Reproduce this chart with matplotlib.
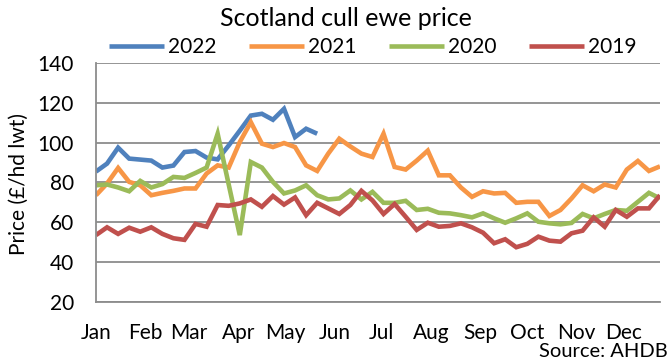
import matplotlib
matplotlib.use("Agg")
import matplotlib.pyplot as plt
import numpy as np

plt.rcParams['font.family'] = ['Lato', 'DejaVu Sans']

months = ["Jan", "Feb", "Mar", "Apr", "May", "Jun", "Jul", "Aug", "Sep", "Oct", "Nov", "Dec"]
month_start_day = [0, 31, 59, 90, 120, 151, 181, 212, 243, 273, 304, 334]

y2022 = [85.5, 89.5, 97.5, 92, 91.5, 91, 87.5, 88.5, 95.3, 95.8, 92.5, 91.6, 98.6, 106,
         113.6, 114.5, 111.5, 117, 102.8, 107, 104.5]

y2021 = [73.6, 79.5, 87.3, 80.3, 78.6, 73.6, 74.8, 75.8, 77, 77, 84.5, 88.6, 87.5, 100.3,
         110.3, 99.5, 97.8, 99.8, 97.8, 88.6, 85.8, 94.5, 102, 98.1, 94.5, 92.8, 104.5, 87.8,
         86.5, 91, 96, 83.6, 83.6, 77.5, 72.8, 75.6, 74.5, 74.8, 69.8, 70.3, 70.3, 63.2,
         66.2, 72, 78.6, 75.6, 79, 77.5, 86.5, 90.8, 85.8, 88.1]

y2020 = [78.6, 79, 77.5, 75.6, 80.8, 77.5, 79.2, 82.8, 82.3, 84.8, 87.5, 104.5, 79, 53.6,
         90.3, 87.5, 80.3, 74.5, 76, 78.6, 73.6, 71.5, 72, 76, 71.5, 75.3, 69.8, 69.8,
         70.8, 66.2, 66.8, 64.8, 64.5, 63.6, 62.5, 64.5, 62, 59.8, 62, 64.5, 60.3, 59.5,
         59, 59.7, 64.2, 62, 64.2, 66.2, 65.8, 70.3, 74.8, 72]

y2019 = [53.6, 57.5, 54.2, 57.3, 55.3, 57.5, 54.2, 52, 51.2, 59.2, 57.8, 68.7, 68.3, 69.5,
         71.5, 67.8, 73.2, 68.9, 72.5, 63.6, 69.8, 67, 64.2, 68.7, 75.8, 71, 64.2, 69.2,
         62.8, 56.2, 59.8, 57.8, 58.2, 59.5, 57.5, 54.8, 49.5, 51.5, 47.5, 49.2, 52.8, 50.8,
         50.3, 54.5, 55.8, 62.5, 57.8, 66.2, 62.8, 67, 67, 73.6]

series = [("2022", y2022, "#4F81BD"), ("2021", y2021, "#F79646"),
          ("2020", y2020, "#9BBB59"), ("2019", y2019, "#C0504D")]

W, H = 669, 361
fig = plt.figure(figsize=(W / 100, H / 100), dpi=100)
ax = fig.add_axes([96 / W, 1 - 302 / H, (660 - 96) / W, (302 - 63) / H])

for name, vals, col in series:
    ax.plot(np.arange(len(vals)), vals, color=col, lw=3.3, label=name,
            solid_joinstyle='miter', solid_capstyle='butt')

ax.set_xlim(0, 51)
ax.set_ylim(20, 140)
ax.set_yticks(np.arange(20, 141, 20))
ax.set_xticks([d / 7 for d in month_start_day])
ax.set_xticklabels(months)
ax.tick_params(axis='both', length=0, labelsize=15, colors='black')
ax.tick_params(axis='x', pad=15)
ax.tick_params(axis='y', pad=16)
ax.grid(axis='y', color='#8C8C8C', lw=1.3)
ax.set_axisbelow(True)
for s in ['top', 'right']:
    ax.spines[s].set_visible(False)
for s in ['left', 'bottom']:
    ax.spines[s].set_color('#8C8C8C')
    ax.spines[s].set_linewidth(1.3)

fig.text(19 / W, 1 - 184 / H, "Price (£/hd lwt)", rotation=90, ha='center', va='center',
         fontsize=15)

fig.text(346 / W, 1 - 18 / H, "Scotland cull ewe price", ha='center', va='center', fontsize=18)
fig.legend(loc='center', bbox_to_anchor=(373 / W, 1 - 47 / H), ncol=4, frameon=False,
           fontsize=15, handlelength=2.64, handletextpad=0.2, columnspacing=1.55,
           borderaxespad=0, borderpad=0)
fig.text(668 / W, 1 / H, "Source: AHDB", ha='right', va='bottom', fontsize=14.5)

fig.savefig("out.png", dpi=100)
